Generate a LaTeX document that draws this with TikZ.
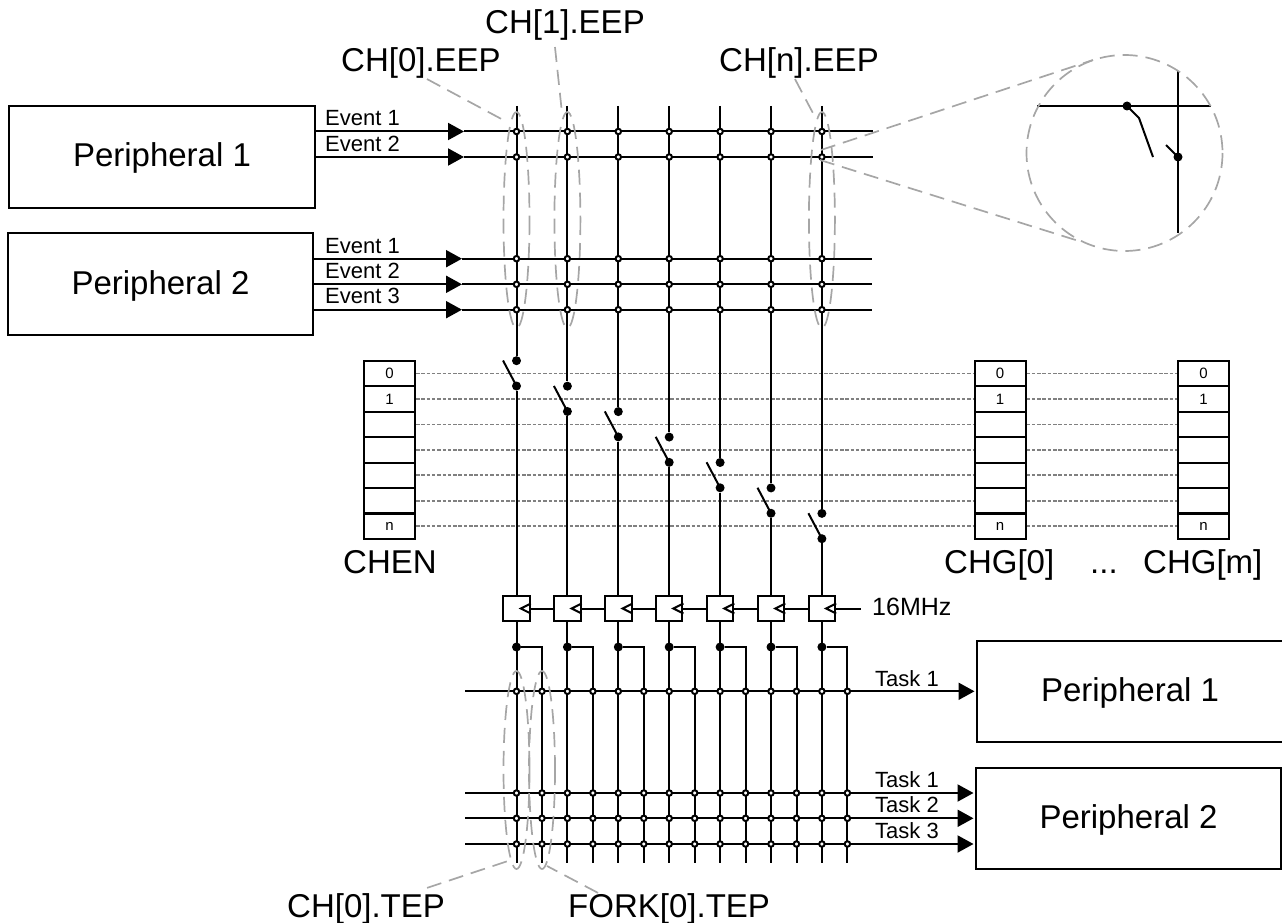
\documentclass[tikz,border=0pt]{standalone}
\usepackage{fontspec}
\setmainfont{Liberation Sans}
\usetikzlibrary{arrows.meta}

\definecolor{callgray}{HTML}{A6A6A6}
\definecolor{dotgray}{HTML}{808080}

\tikzset{
  wire/.style={line width=2pt},
  head/.style={wire, -{Triangle[length=16pt,width=17pt]}},
  periph/.style={draw, wire, inner sep=0pt, text height=24pt, text depth=4pt, minimum width=#1, minimum height=101.5pt, font=\fontsize{33}{36}\selectfont},
  biglabel/.style={anchor=base west, inner sep=0pt, font=\fontsize{33}{36}\selectfont},
  siglabel/.style={anchor=base west, inner sep=0pt, font=\fontsize{22}{24}\selectfont},
  cell/.style={draw, wire, inner sep=0pt, minimum width=51pt, minimum height=25.5pt, font=\fontsize{15}{16}\selectfont},
  flop/.style={draw, wire, fill=white, inner sep=0pt, minimum width=26.5pt, minimum height=25pt},
  junc/.style={draw, wire, circle, fill=white, inner sep=0pt, minimum size=5.5pt},
  dotnode/.style={circle, fill=black, inner sep=0pt, minimum size=9pt},
  enline/.style={dotgray, line width=1.7pt, dash pattern=on 3.5pt off 1.8pt},
  callout/.style={callgray, line width=1.7pt, dash pattern=on 15pt off 8pt},
}

\begin{document}
\begin{tikzpicture}[x=1pt,y=-1pt]
\useasboundingbox (0,0) rectangle (1282,923);

% Peripherals
\node[periph=306pt] (perA) at (162,157) {Peripheral 1};
\node[periph=305pt] (perB) at (160.5,284) {Peripheral 2};
\node[periph=306pt] (perC) at (1130,691.3) {Peripheral 1};
\node[periph=305pt] (perD) at (1128.5,818.7) {Peripheral 2};

% Enable registers
\foreach \i/\txt in {0/0,1/1,2/,3/,4/,5/,6/n} {
  \node[cell] (chen\i) at (389.5,373.5+25.45*\i) {\txt};
  \node[cell] (chgA\i) at (1000,373.5+25.45*\i) {\txt};
  \node[cell] (chgB\i) at (1203.5,373.5+25.45*\i) {\txt};
  \draw[enline] (chen\i) -- (chgA\i);
  \draw[enline] (chgA\i) -- (chgB\i);
}
\node[biglabel] (chenlbl) at (343,573) {CHEN};
\node[biglabel] (chgAlbl) at (944,573) {CHG[0]};
\node[biglabel] (dotslbl) at (1090,573) {...};
\node[biglabel] (chgBlbl) at (1143,573) {CHG[m]};

% Event lines
\foreach \r/\y/\base/\tip/\stop/\per/\txt in {
  a/131.5/126/464/873/perA/Event 1,
  b/157/151/464/873/perA/Event 2,
  c/258.7/253/462/872/perB/Event 1,
  d/284.3/278/462/872/perB/Event 2,
  e/309.7/303/462/872/perB/Event 3} {
  \coordinate (ev\r) at (\tip,\y);
  \coordinate (evend\r) at (\stop,\y);
  \draw[head] (\per.east |- ev\r) -- (ev\r);
  \draw[wire] (ev\r) -- (evend\r);
  \node[siglabel] (evlbl\r) at (325,\base) {\txt};
}

% Task lines
\foreach \r/\y/\base/\per/\txt in {
  a/691.3/686/perC/Task 1,
  b/793/787/perD/Task 1,
  c/818.3/812/perD/Task 2,
  d/844/838/perD/Task 3} {
  \coordinate (tk\r) at (465,\y);
  \draw[head, shorten >=1.5pt] (tk\r) -- (\per.west |- tk\r);
  \node[siglabel] (tklbl\r) at (875,\base) {\txt};
}

% Channels
\foreach \c/\x in {0/516.5,1/567.4,2/618.3,3/669.2,4/720.1,5/771,6/821.9} {
  \coordinate (tp\c) at (\x,106);
  \coordinate (bt\c) at (\x,863);
  \coordinate (fb\c) at (\x+25.5,863);
  \node[dotnode] (up\c) at (\x,360.7+25.45*\c) {};
  \node[dotnode] (lo\c) at (\x,386+25.45*\c) {};
  \node[flop] (ff\c) at (\x,608.5) {};
  \node[dotnode] (fk\c) at (\x,647) {};
  \draw[wire] (tp\c) -- (up\c);
  \draw[wire] (lo\c.center) -- ++(-13.5,-25.5);
  \draw[wire] (lo\c) -- (ff\c);
  \draw[wire] (ff\c) -- (bt\c);
  \draw[wire] (fk\c) -| (fb\c);
  \draw[wire] ([yshift=5pt]ff\c.east) -- ++(-10,5) -- ++(10,5);
  % crossings
  \foreach \r in {a,b,c,d,e}
    \node[junc] (ej\r\c) at (tp\c |- ev\r) {};
  \foreach \r in {a,b,c,d} {
    \node[junc] (tj\r\c) at (bt\c |- tk\r) {};
    \node[junc] (fj\r\c) at (fb\c |- tk\r) {};
  }
}
\foreach \a/\b in {0/1,1/2,2/3,3/4,4/5,5/6}
  \draw[wire] (ff\a) -- (ff\b);
\coordinate (clk) at (861,608.5);
\draw[wire] (ff6) -- (clk);
\node[anchor=base west, inner sep=0pt, font=\fontsize{25}{27}\selectfont] (clklbl) at (872,615) {16MHz};

% Close-up
\coordinate (mgl) at (1037,106);
\coordinate (mgr) at (1211,106);
\coordinate (mgt) at (1178,71);
\coordinate (mgb) at (1178,233);
\node[dotnode] (mgup) at (1127,106) {};
\node[dotnode] (mglo) at (1178,157) {};
\draw[wire] (mgl) -- (mgr);
\draw[wire] (mgt) -- (mgb);
\draw[wire] (mgup.center) -- (1139,118) -- (1153,157);
\draw[wire] (mglo.center) -- (1166,145);
\draw[callout] (1124.5,153) circle (98);
\draw[callout] (821,150) -- (1093,60);
\draw[callout] (820,160) -- (1082,242);

% Endpoint groups
\foreach \x in {516.5,567.4,821.9}
  \draw[callout] (\x,220) ellipse (13 and 108);
\foreach \x in {516.5,542}
  \draw[callout] (\x,770) ellipse (13 and 99);

\node[biglabel] (eepA) at (341,72) {CH[0].EEP};
\node[biglabel] (eepB) at (485,34) {CH[1].EEP};
\node[biglabel] (eepN) at (719,72) {CH[n].EEP};
\node[biglabel] (tepA) at (287,917) {CH[0].TEP};
\node[biglabel] (tepB) at (568,917) {FORK[0].TEP};

\coordinate (gA) at (507,122);
\coordinate (gB) at (562,113);
\coordinate (gN) at (815,117);
\coordinate (gT) at (511,860);
\coordinate (gF) at (547,866);
\draw[callout] ([xshift=6pt]eepA.south) -- (gA);
\draw[callout] ([xshift=-10pt,yshift=-6pt]eepB.south) -- (gB);
\draw[callout] ([xshift=-4pt]eepN.south) -- (gN);
\draw[callout] ([xshift=61pt,yshift=5pt]tepA.north) -- (gT);
\draw[callout] ([xshift=-71pt]tepB.north) -- (gF);

\end{tikzpicture}
\end{document}
